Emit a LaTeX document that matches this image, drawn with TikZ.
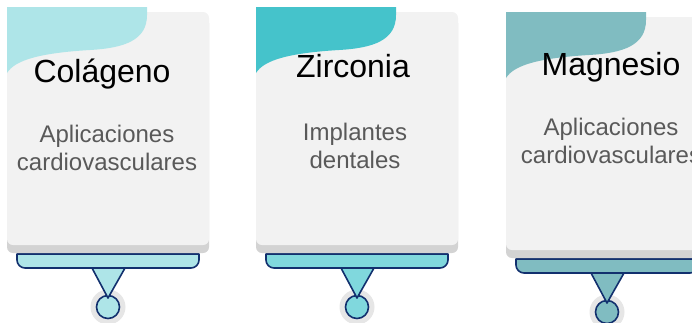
\documentclass[tikz,border=0pt]{standalone}
\usepackage{fontspec}
\setmainfont{Liberation Sans}

\definecolor{cardgray}{HTML}{F2F2F2}
\definecolor{shadowgray}{HTML}{D3D3D3}
\definecolor{halogray}{HTML}{E6E6E6}
\definecolor{navyline}{HTML}{12306E}
\definecolor{bodytext}{HTML}{595959}
\definecolor{tealA}{HTML}{AEE5E8}
\definecolor{tealB}{HTML}{45C3CB}
\definecolor{tealBlight}{HTML}{80D8DD}
\definecolor{tealC}{HTML}{80BCC1}

\begin{document}
\begin{tikzpicture}[
    x=1pt, y=-1pt,
    shadow/.style={fill=shadowgray, rounded corners=6pt},
    card/.style={fill=cardgray, rounded corners=6pt},
    outline/.style={draw=navyline, line width=1.6pt, line join=round},
    title/.style={font=\fontsize{32}{38}\selectfont, text=black, anchor=base, inner sep=0pt},
    body/.style={font=\fontsize{24}{28}\selectfont, text=bodytext, align=center, anchor=base, inner sep=0pt}
]
\useasboundingbox (0,0) rectangle (692,322);

% Card 1
\begin{scope}
  \fill[halogray] (108,307) circle (17.5pt);
  \filldraw[outline, fill=tealA] (108,307) circle (11.5pt);
  \filldraw[outline, fill=tealA] (92,268) -- (125,268) -- (108,298) -- cycle;
  \filldraw[outline, fill=tealA] (17,254) [rounded corners=8pt] -- (17,268) -- (199,268) [sharp corners] -- (199,254) -- cycle;
  \fill[shadow] (7,17) rectangle (209,253);
  \fill[card] (7,12) rectangle (209,245);
  \fill[tealA] (7,7) -- (147,7) -- (147,15) .. controls (147,40) and (125,48) .. (90,50)
      .. controls (40,53) and (15,60) .. (7,73) -- cycle;
  \node[title] (colageno) at (102,82) {Colágeno};
  \node[body]  (aplicA)   at (107,170) {Aplicaciones\\cardiovasculares};
\end{scope}

% Card 2
\begin{scope}[shift={(249,0)}]
  \fill[halogray] (108,307) circle (17.5pt);
  \filldraw[outline, fill=tealBlight] (108,307) circle (11.5pt);
  \filldraw[outline, fill=tealBlight] (92,268) -- (125,268) -- (108,298) -- cycle;
  \filldraw[outline, fill=tealBlight] (17,254) [rounded corners=8pt] -- (17,268) -- (199,268) [sharp corners] -- (199,254) -- cycle;
  \fill[shadow] (7,17) rectangle (209,253);
  \fill[card] (7,12) rectangle (209,245);
  \fill[tealB] (7,7) -- (147,7) -- (147,15) .. controls (147,40) and (125,48) .. (90,50)
      .. controls (40,53) and (15,60) .. (7,73) -- cycle;
  \node[title] (zirconia) at (104,77) {Zirconia};
  \node[body]  (implant)  at (106,168) {Implantes\\dentales};
\end{scope}

% Card 3
\begin{scope}[shift={(499,5)}]
  \fill[halogray] (108,307) circle (17.5pt);
  \filldraw[outline, fill=tealC] (108,307) circle (11.5pt);
  \filldraw[outline, fill=tealC] (92,268) -- (125,268) -- (108,298) -- cycle;
  \filldraw[outline, fill=tealC] (17,254) [rounded corners=8pt] -- (17,268) -- (199,268) [sharp corners] -- (199,254) -- cycle;
  \fill[shadow] (7,17) rectangle (209,253);
  \fill[card] (7,12) rectangle (209,245);
  \fill[tealC] (7,7) -- (147,7) -- (147,15) .. controls (147,40) and (125,48) .. (90,50)
      .. controls (40,53) and (15,60) .. (7,73) -- cycle;
  \node[title] (magnesio) at (112,70) {Magnesio};
  \node[body]  (aplicC)   at (112,158) {Aplicaciones\\cardiovasculares};
\end{scope}

\end{tikzpicture}
\end{document}
